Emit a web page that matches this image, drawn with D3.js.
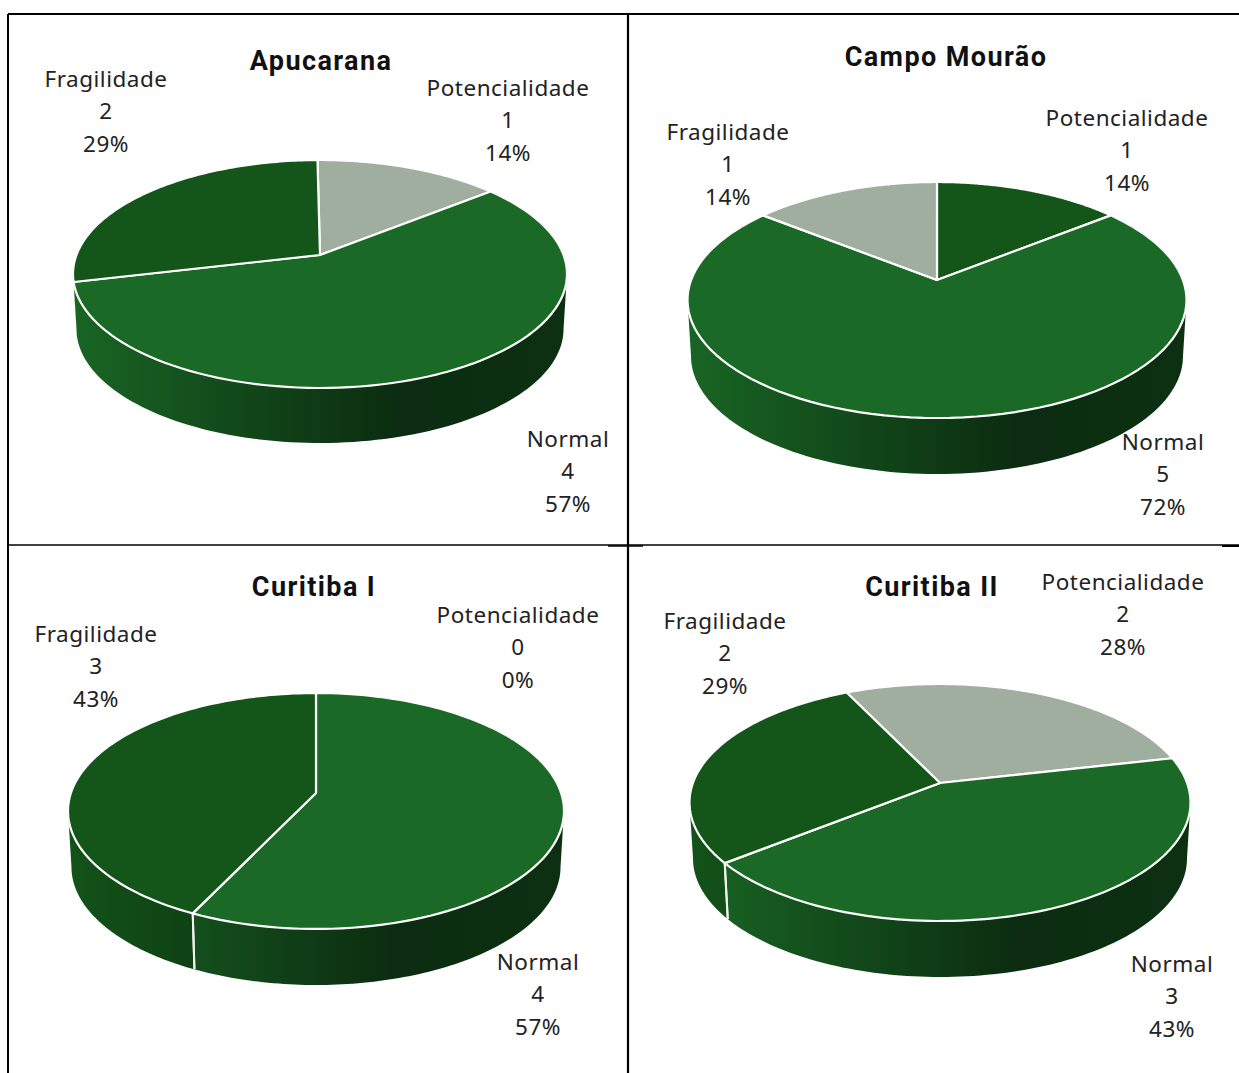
<!DOCTYPE html>
<html><head><meta charset="utf-8">
<script src="https://cdn.jsdelivr.net/npm/d3@7"></script>
<style>html,body{margin:0;padding:0;background:#fff;overflow:hidden}svg{display:block}</style>
</head><body><svg id="c" width="1239" height="1073"></svg>
<script>
const titles = ["Apucarana","Campo Mourão","Curitiba I","Curitiba II"];
const categories = ["Potencialidade","Normal","Fragilidade"];
const valuesApucarana = [1,4,2];
const valuesCampoMourao = [1,5,1];
const valuesCuritibaI = [0,4,3];
const valuesCuritibaII = [2,3,2];
const percentsApucarana = ["14%","57%","29%"];
const percentsCampoMourao = ["14%","72%","14%"];
const percentsCuritibaI = ["0%","57%","43%"];
const percentsCuritibaII = ["28%","43%","29%"];
const GREY="#a0ae9f", MID="#1a6926", DARK="#14561a";
const paletteA=[GREY,MID,DARK], paletteB=[DARK,MID,GREY];

const layout=[
 {values:valuesApucarana,pct:percentsApucarana,colors:paletteA,rot:-0.012,cx:320,cy:255,rx:247,top:160,bot:388,depth:55,title:[321,61],
  labels:[[508,88],[568,439],[106,79]]},
 {values:valuesCampoMourao,pct:percentsCampoMourao,colors:paletteB,rot:0,cx:937,cy:280,rx:249.5,top:182,bot:418,depth:56,title:[946,57],
  labels:[[1127,118],[1163,442],[728,132]]},
 {values:valuesCuritibaI,pct:percentsCuritibaI,colors:paletteA,rot:0,cx:316,cy:793,rx:248,top:693,bot:929,depth:56,title:[314,587],
  labels:[[518,615],[538,962],[96,634]]},
 {values:valuesCuritibaII,pct:percentsCuritibaII,colors:paletteA,rot:-Math.PI/7,cx:940,cy:783,rx:250.5,top:684,bot:921,depth:56,title:[932,587],
  labels:[[1123,582],[1172,964],[725,621]]}
];
const svg=d3.select("#c");
const defs=svg.append("defs");
svg.append("rect").attr("width",1239).attr("height",1073).attr("fill","#fff");
const lineGen=d3.line();

layout.forEach((L,i)=>{
  const g=svg.append("g");
  const dT=L.cy-L.top, dB=L.bot-L.cy;
  const p=(dB-dT)/(dB+dT), b=dT*(1+p), a=L.rx*Math.sqrt(1-p*p);
  const proj=t=>{const X=Math.sin(t),Y=Math.cos(t),w=1+p*Y;return [L.cx+a*X/w,L.cy-b*Y/w];};
  const low=t=>{const q=proj(t);return [L.cx+0.986*(q[0]-L.cx),q[1]+L.depth];};
  const samples=(s,e)=>d3.range(0,101).map(k=>s+(e-s)*k/100);
  const arcs=d3.pie().sort(null).value(d=>d).startAngle(L.rot).endAngle(L.rot+2*Math.PI)(L.values);
  const t0=Math.acos(-p), t1=2*Math.PI-t0;
  arcs.forEach((d,j)=>{
    if(d.value===0) return;
    const s=Math.max(d.startAngle,t0), e=Math.min(d.endAngle,t1);
    if(e<=s) return;
    const id=`w${i}${j}`, col=L.colors[j], c=d3.color(col);
    const shade=f=>d3.rgb(c.r*f,c.g*f,c.b*f).formatHex();
    const gr=defs.append("linearGradient").attr("id",id).attr("gradientUnits","userSpaceOnUse")
      .attr("x1",L.cx-L.rx).attr("x2",L.cx+L.rx).attr("y1",0).attr("y2",0);
    gr.append("stop").attr("offset",0).attr("stop-color",shade(.96));
    gr.append("stop").attr("offset",0.66).attr("stop-color",shade(.42));
    gr.append("stop").attr("offset",1).attr("stop-color",shade(.46));
    const ss=samples(s,e);
    g.append("path").attr("d",lineGen(ss.map(proj).concat(ss.slice().reverse().map(low)))+"Z").attr("fill",`url(#${id})`);
  });
  const margin=0.14;
  arcs.forEach(d=>{
    if(d.value===0) return;
    [d.startAngle,d.endAngle].forEach(t=>{
      if(t>t0+margin&&t<t1-margin) g.append("path").attr("d",lineGen([proj(t),low(t)])).attr("stroke","#f0f3ee").attr("stroke-width",2).attr("fill","none");
    });
  });
  arcs.forEach((d,j)=>{
    if(d.value===0) return;
    g.append("path").attr("d",lineGen([[L.cx,L.cy]].concat(samples(d.startAngle,d.endAngle).map(proj)))+"Z")
      .attr("fill",L.colors[j]).attr("stroke","#fff").attr("stroke-width",2.2).attr("stroke-linejoin","round");
  });
  g.append("text").attr("x",L.title[0]).attr("y",L.title[1]).attr("dy","0.35em").attr("text-anchor","middle")
    .attr("font-family","Roboto").attr("font-weight",700).attr("font-size",27).attr("letter-spacing",1.4).attr("fill","#111").text(titles[i]);
  categories.forEach((cat,j)=>{
    const [x,y]=L.labels[j];
    const t=g.append("text").attr("text-anchor","middle").attr("font-family","'Noto Sans'").attr("font-size",22.5).attr("letter-spacing",0.5).attr("fill","#222");
    [cat,String(L.values[j]),L.pct[j]].forEach((s,k)=>{
      t.append("tspan").attr("x",x).attr("y",y+k*32.5).attr("dy","0.35em").text(s);
    });
  });
});

const rules=[
 [8,14,8,1073,2],[8,14,1239,14,2],[628,14,628,1073,2.2],[8,545,1239,545,1.5],[608,546,643,546,1.5],[1222,546,1239,546,2]
];
svg.selectAll("line.r").data(rules).join("line").attr("x1",d=>d[0]).attr("y1",d=>d[1]).attr("x2",d=>d[2]).attr("y2",d=>d[3])
  .attr("stroke","#000").attr("stroke-width",d=>d[4]);
</script></body></html>
